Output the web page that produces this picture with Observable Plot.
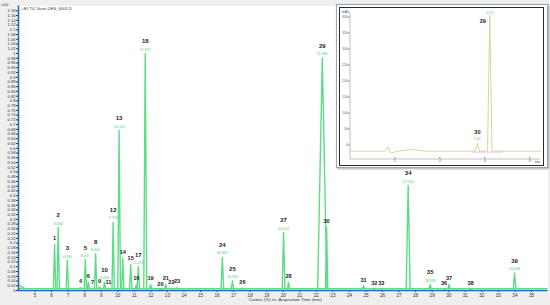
<!DOCTYPE html>
<html>
<head>
<meta charset="utf-8">
<script src="https://cdn.jsdelivr.net/npm/d3@7"></script>
<script src="https://cdn.jsdelivr.net/npm/@observablehq/plot@0.6"></script>
<style>
  html, body { margin: 0; padding: 0; background: #efefef; }
  #wrap { position: relative; width: 550px; height: 305px; overflow: hidden; font-family: "Liberation Sans", Arial, sans-serif; }
  #inset { position: absolute; left: 336px; top: 4px; width: 212px; height: 164px; box-sizing: border-box;
           border: 1px solid #93a6c2; background: #fff; box-shadow: 1px 1px 2px rgba(0,0,0,0.35); }
  #insetFrame { position: absolute; left: 2px; top: 2px; width: 205px; height: 159px; box-sizing: border-box;
                border: 1.5px solid #2a2a2a; background: #fff; }
  svg { display: block; }
</style>
</head>
<body>
<div id="wrap">
  <div id="main"></div>
  <div id="inset"><div id="insetFrame"></div></div>
</div>
<script>
// ---------- main chromatogram data (TIC, x10^7 counts) ----------
const peakNumber = ["1","2","3","4","5","6","7","8","9","10","11","12","13","14","15","16","17","18","19","20",
                    "21","22","23","24","25","26","27","28","29","30","31","32","33","34","35","36","37","38","39"];
const peakTime   = [6.18, 6.40, 6.95, 7.75, 8.04, 8.22, 8.47, 8.66, 8.90, 9.20, 9.44, 9.72, 10.08, 10.30, 10.78, 11.12, 11.24, 11.66, 11.98, 12.58,
                    12.90, 13.24, 13.58, 16.32, 16.93, 17.53, 20.02, 20.32, 22.36, 22.62, 24.85, 25.50, 25.93, 27.55, 28.88, 29.72, 30.02, 31.32, 33.98];
const peakHeight = [0.194, 0.266, 0.127, 0.012, 0.130, 0.035, 0.010, 0.155, 0.015, 0.035, 0.010, 0.288, 0.675, 0.135, 0.110, 0.025, 0.100, 1.000, 0.025, 0.002,
                    0.026, 0.008, 0.012, 0.140, 0.040, 0.010, 0.245, 0.035, 0.980, 0.266, 0.020, 0.006, 0.006, 0.443, 0.025, 0.004, 0.026, 0.006, 0.073];
const peakHalfWidth = [0.07, 0.07, 0.07, 0.06, 0.07, 0.06, 0.06, 0.07, 0.06, 0.06, 0.06, 0.07, 0.08, 0.07, 0.07, 0.06, 0.07, 0.09, 0.07, 0.06,
                    0.06, 0.06, 0.06, 0.08, 0.07, 0.06, 0.08, 0.06, 0.28, 0.07, 0.07, 0.06, 0.06, 0.12, 0.07, 0.06, 0.06, 0.06, 0.08];
const peakRTText = ["", "6.404", "6.949", "", "8.037", "", "", "8.661", "", "9.226", "", "9.756", "10.110", "", "", "", "11.216", "11.675", "", "",
                    "", "", "", "16.301", "16.932", "", "20.024", "", "22.380", "", "", "", "", "27.550", "28.939", "", "", "", "34.008"];
const baselineLevel = 0.008;
const edgeTime = [4.02, 4.08, 4.40];
const edgeSignal = [0.022, 0.020, 0.008];
const xTickValues = d3.range(5, 36, 1);
const yTickValues = d3.range(0, 119, 2).map(d => d / 100);

// ---------- inset (HPLC, mAU) ----------
const insetTime   = [0, 1.55, 1.69, 1.80, 2.20, 2.76, 3.30, 5.58, 5.67, 5.76, 6.12, 6.22, 6.32, 8.5];
const insetSignal = [-19, -19, -6, -25, -19, -14, -19, -19, 6, -19, -19, 406, -19, -19];
const insetDotTime = [5.47, 6.80];
const insetDotSignal = [-22, -22];
const insetPeakNumber = ["30", "29"];
const insetPeakTime = [5.67, 6.22];
const insetPeakSignal = [6, 406];
const insetRTText = ["5.87", "6.15"];
const insetXTicks = [2, 4, 6, 8];
const insetYTicks = [0, 50, 100, 150, 200, 250, 300, 350, 400];

// ---------- build tables ----------
const traceRows = [];
peakTime.forEach((t, i) => {
  const w = peakHalfWidth[i];
  traceRows.push({peak: i, t: t - w, v: baselineLevel});
  traceRows.push({peak: i, t: t, v: peakHeight[i]});
  traceRows.push({peak: i, t: t + w, v: baselineLevel});
});
edgeTime.forEach((t, i) => traceRows.push({peak: -1, t, v: edgeSignal[i]}));

const peaks = peakNumber.map((n, i) => ({n, t: peakTime[i], h: peakHeight[i], rt: peakRTText[i]}));
const withRT = peaks.filter(d => d.rt);
const withoutRT = peaks.filter(d => !d.rt);

const green = "#5ddc86";
const axisBlue = "#2f63c6";
const font = "Liberation Sans, Arial, sans-serif";

const main = Plot.plot({
  width: 550, height: 305,
  marginLeft: 18, marginRight: 2.5, marginTop: 5.6, marginBottom: 15,
  x: {domain: [4, 36]},
  y: {domain: [0, 1.2]},
  style: {background: "#efefef", fontFamily: font, overflow: "visible"},
  marks: [
    Plot.frame({fill: "white", stroke: "none"}),
    Plot.axisY({ticks: yTickValues, tickFormat: d => String(+d.toFixed(2)), fontSize: 4.2, tickSize: 2, tickPadding: 0.8, stroke: "#333", fill: "#333", label: null}),
    Plot.axisX({ticks: xTickValues, tickFormat: d => String(d), fontSize: 4.6, tickSize: 2, tickPadding: 1.5, stroke: "#333", fill: "#333", label: null}),
    Plot.ruleY([baselineLevel], {stroke: green, strokeWidth: 1.1}),
    Plot.line(traceRows, {x: "t", y: "v", z: "peak", stroke: green, strokeWidth: 1.4, curve: "linear"}),
    Plot.ruleX([4], {stroke: axisBlue, strokeWidth: 1.6}),
    Plot.ruleY([0], {stroke: axisBlue, strokeWidth: 1.6}),
    Plot.text(withRT, {x: "t", y: "h", text: "n", dy: -12, fontSize: 6, fontWeight: "bold", fill: "#222"}),
    Plot.text(withRT, {x: "t", y: "h", text: "rt", dy: -4, fontSize: 3.6, fill: "#3cd36e"}),
    Plot.text(withoutRT, {x: "t", y: "h", text: "n", dy: -6, fontSize: 5.6, fontWeight: "bold", fill: "#222"}),
    Plot.text(["+EI TIC Scan DES_0001.D"], {frameAnchor: "top-left", dx: 3, dy: 1, fontSize: 4.2, fill: "#333", textAnchor: "start"}),
    Plot.text(["x10\u2077"], {frameAnchor: "top-left", dx: -17, dy: -3, fontSize: 4, fill: "#333", textAnchor: "start"}),
    Plot.text(["Counts (%) vs. Acquisition Time (min)"], {frameAnchor: "bottom", dy: 10.5, dx: 2, fontSize: 4.4, fill: "#333"})
  ]
});
document.getElementById("main").appendChild(main);

const insetPeaks = insetPeakNumber.map((n, i) => ({n, t: insetPeakTime[i], v: insetPeakSignal[i], rt: insetRTText[i]}));
const insetTrace = insetTime.map((t, i) => ({t, v: insetSignal[i]}));
const insetDots = insetDotTime.map((t, i) => ({t, v: insetDotSignal[i]}));

const inset = Plot.plot({
  width: 202, height: 156,
  marginLeft: 9.5, marginRight: 1.5, marginTop: 4.5, marginBottom: 5.5,
  x: {domain: [0, 8.5]},
  y: {domain: [-43.75, 412.5]},
  style: {background: "white", fontFamily: font, overflow: "visible"},
  marks: [
    Plot.axisY({ticks: insetYTicks, fontSize: 3.2, tickSize: 1.5, tickPadding: 0.8, stroke: "#777", fill: "#555", label: null}),
    Plot.axisX({ticks: insetXTicks, fontSize: 3.2, tickSize: -1.5, tickPadding: 2.5, stroke: "#777", fill: "#555", label: null}),
    Plot.ruleX([0], {stroke: "#999", strokeWidth: 0.6}),
    Plot.ruleY([-43.75], {stroke: "#999", strokeWidth: 0.6}),
    Plot.line(insetDots, {x: "t", y: "v", stroke: "#e6a3e0", strokeWidth: 0.8, strokeDasharray: "1,1"}),
    Plot.line(insetTrace, {x: "t", y: "v", stroke: "#d9d59c", strokeWidth: 1}),
    Plot.text([insetPeaks[0]], {x: "t", y: "v", text: "n", dy: -11, fontSize: 5.5, fontWeight: "bold", fill: "#222"}),
    Plot.text([insetPeaks[0]], {x: "t", y: "v", text: "rt", dy: -4, fontSize: 3.4, fill: "#3cd36e"}),
    Plot.text([insetPeaks[1]], {x: "t", y: "v", text: "n", dx: -7, dy: 6, fontSize: 5.5, fontWeight: "bold", fill: "#222"}),
    Plot.text([insetPeaks[1]], {x: "t", y: "v", text: "rt", dy: -2.5, fontSize: 3.4, fill: "#3cd36e"}),
    Plot.text(["mAU"], {frameAnchor: "top-left", dx: -8, dy: -2, fontSize: 3.2, fill: "#444", textAnchor: "start"}),
    Plot.text(["min"], {frameAnchor: "bottom-right", dx: -1, dy: 3.5, fontSize: 3.2, fill: "#444", textAnchor: "end"})
  ]
});
document.getElementById("insetFrame").appendChild(inset);
</script>
</body>
</html>
